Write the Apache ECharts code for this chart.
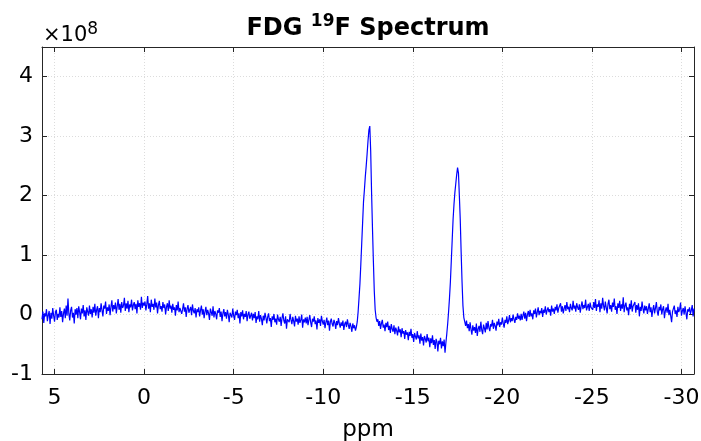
<!DOCTYPE html>
<html>
<head>
<meta charset="utf-8">
<script src="https://cdn.jsdelivr.net/npm/echarts@6/dist/echarts.min.js"></script>
<style>
html,body{margin:0;padding:0;background:#fff;}
#chart{width:701px;height:441px;}
</style>
</head>
<body>
<div id="chart"></div>
<script>
// Chemical shift sampling (ppm): first sample and spacing
const ppmStart = 5.7;
const ppmStep = -0.05;
// Signal intensity in units of 1e8, one value per ppm sample (5.70 ... -30.70)
const intensity = [
  // 5.70 .. 3.00
  -0.08, 0.05, -0.14, 0.02, -0.03, 0.09, -0.11, -0.01, 0.06, -0.16,
  0.03, -0.07, 0.11, -0.02, -0.12, 0.04, 0.08, -0.09, 0.01, -0.05,
  0.12, -0.04, 0.06, -0.13, 0.02, 0.10, -0.06, 0.15, -0.02, 0.27,
  0.01, -0.10, 0.07, 0.13, -0.05, 0.03, -0.15, 0.09, 0.00, 0.11,
  -0.06, 0.14, 0.04, -0.08, 0.10, 0.02, 0.16, -0.03, 0.07, -0.09,
  0.12, 0.05, -0.02, 0.15, 0.01,
  // 2.95 .. 0.00
  0.09, -0.05, 0.13, 0.03, 0.18, -0.02, 0.08, 0.14, -0.06, 0.11,
  0.04, 0.19, 0.07, -0.03, 0.15, 0.10, 0.22, 0.01, 0.12, 0.06,
  0.17, -0.01, 0.13, 0.24, 0.05, 0.16, 0.09, 0.20, 0.02, 0.14,
  0.26, 0.08, 0.18, 0.03, 0.21, 0.11, 0.15, 0.28, 0.06, 0.19,
  0.10, 0.23, 0.04, 0.17, 0.12, 0.25, 0.07, 0.16, 0.21, 0.09,
  0.18, 0.02, 0.24, 0.13, 0.19, 0.08, 0.30, 0.11, 0.20, 0.15,
  // -0.05 .. -3.00
  0.22, 0.07, 0.17, 0.31, 0.10, 0.19, 0.04, 0.25, 0.13, 0.18,
  0.08, 0.27, 0.12, 0.20, 0.02, 0.16, 0.23, 0.09, 0.14, 0.05,
  0.21, 0.11, 0.17, 0.00, 0.13, 0.19, 0.06, 0.24, 0.10, 0.15,
  0.03, 0.18, 0.08, 0.12, -0.02, 0.16, 0.07, 0.22, 0.04, 0.11,
  0.14, 0.01, 0.09, 0.19, 0.05, 0.12, -0.04, 0.10, 0.16, 0.03,
  0.08, 0.13, -0.01, 0.17, 0.06, 0.02, 0.11, -0.05, 0.09, 0.04,
  // -3.05 .. -6.00
  0.12, -0.03, 0.07, 0.15, 0.00, 0.09, -0.06, 0.05, 0.13, -0.01,
  0.08, 0.02, -0.09, 0.10, 0.04, -0.02, 0.14, -0.05, 0.06, 0.01,
  -0.08, 0.07, 0.03, 0.11, -0.04, 0.05, -0.11, 0.02, 0.09, -0.03,
  0.04, -0.07, 0.08, 0.00, -0.13, 0.03, 0.06, -0.05, 0.10, -0.02,
  -0.09, 0.05, -0.01, 0.08, -0.06, 0.02, -0.15, 0.04, -0.03, 0.07,
  -0.08, 0.01, -0.04, 0.06, -0.11, 0.00, 0.05, -0.07, -0.02, 0.03,
  // -6.05 .. -9.00
  -0.10, 0.01, -0.06, 0.04, -0.14, -0.03, -0.08, 0.06, -0.12, -0.01,
  -0.07, -0.18, -0.02, -0.10, 0.03, -0.05, -0.15, -0.04, 0.02, -0.11,
  -0.06, -0.21, -0.03, -0.09, 0.01, -0.13, -0.07, -0.17, 0.00, -0.08,
  -0.12, -0.04, -0.19, -0.06, 0.02, -0.10, -0.15, -0.03, -0.24, -0.08,
  -0.05, -0.13, 0.01, -0.09, -0.16, -0.04, -0.11, -0.20, -0.02, -0.12,
  -0.07, -0.17, -0.03, -0.14, -0.09, 0.00, -0.22, -0.08, -0.13, -0.05,
  // -9.05 .. -11.85
  -0.15, -0.04, -0.18, -0.09, -0.01, -0.13, -0.21, -0.07, -0.12, -0.03,
  -0.16, -0.10, -0.25, -0.06, -0.14, -0.08, -0.19, -0.02, -0.11, -0.17,
  -0.09, -0.23, -0.13, -0.05, -0.18, -0.10, -0.27, -0.12, -0.07, -0.16,
  -0.20, -0.09, -0.14, -0.24, -0.11, -0.18, -0.06, -0.15, -0.22, -0.13,
  -0.19, -0.10, -0.26, -0.16, -0.12, -0.21, -0.08, -0.17, -0.24, -0.14,
  -0.20, -0.29, -0.15, -0.23, -0.18, -0.27, -0.21,
  // -11.90 .. -13.00 (first peak)
  -0.12, 0.05, 0.28, 0.52, 0.85, 1.20, 1.55, 1.90, 2.10, 2.32,
  2.50, 2.70, 2.92, 3.10, 3.17, 2.75, 2.05, 1.45, 0.90, 0.40,
  0.08, -0.05, -0.12,
  // -13.05 .. -16.85
  -0.08, -0.19, -0.11, -0.24, -0.15, -0.09, -0.22, -0.17, -0.28, -0.14,
  -0.21, -0.12, -0.26, -0.19, -0.31, -0.16, -0.24, -0.29, -0.18, -0.33,
  -0.22, -0.27, -0.35, -0.20, -0.30, -0.25, -0.38, -0.23, -0.32, -0.28,
  -0.41, -0.26, -0.34, -0.30, -0.43, -0.29, -0.36, -0.24, -0.39, -0.33,
  -0.46, -0.31, -0.37, -0.42, -0.28, -0.40, -0.35, -0.49, -0.32, -0.44,
  -0.38, -0.52, -0.36, -0.41, -0.47, -0.33, -0.45, -0.39, -0.55, -0.40,
  -0.48, -0.35, -0.51, -0.43, -0.58, -0.41, -0.46, -0.62, -0.44, -0.50,
  -0.39, -0.57, -0.45, -0.53, -0.42, -0.64, -0.47,
  // -16.90 .. -17.90 (second peak)
  -0.32, -0.15, 0.05, 0.28, 0.55, 0.90, 1.25, 1.60, 1.85, 2.05,
  2.20, 2.35, 2.47, 2.38, 2.00, 1.60, 1.05, 0.55, 0.15, -0.05,
  -0.12,
  // -17.95 .. -21.00
  -0.19, -0.10, -0.23, -0.16, -0.28, -0.13, -0.25, -0.34, -0.18, -0.27,
  -0.21, -0.31, -0.15, -0.36, -0.24, -0.19, -0.29, -0.12, -0.26, -0.33,
  -0.17, -0.23, -0.30, -0.14, -0.25, -0.11, -0.22, -0.28, -0.16, -0.20,
  -0.09, -0.24, -0.14, -0.19, -0.27, -0.12, -0.18, -0.07, -0.21, -0.13,
  -0.17, -0.05, -0.15, -0.22, -0.09, -0.14, -0.03, -0.16, -0.10, -0.01,
  -0.13, -0.06, -0.11, 0.00, -0.08, -0.14, -0.04, -0.09, 0.02, -0.07,
  -0.02, -0.10,
  // -21.05 .. -25.00
  0.01, -0.09, -0.02, 0.05, -0.07, 0.03, -0.11, 0.00, 0.06, -0.04,
  0.08, -0.03, 0.02, -0.08, 0.07, 0.01, 0.10, -0.05, 0.04, 0.12,
  -0.01, 0.06, 0.02, 0.11, -0.04, 0.08, 0.03, 0.14, 0.00, 0.07,
  0.12, 0.04, 0.09, -0.02, 0.15, 0.05, 0.10, 0.01, 0.13, 0.07,
  0.17, 0.03, 0.11, 0.08, 0.19, 0.05, 0.14, 0.02, 0.10, 0.16,
  0.06, 0.21, 0.09, 0.13, 0.04, 0.18, 0.11, 0.07, 0.23, 0.10,
  0.15, 0.05, 0.19, 0.12, 0.08, 0.17, 0.03, 0.14, 0.22, 0.09,
  0.16, 0.11, 0.25, 0.07, 0.13, 0.18, 0.06, 0.20, 0.12, 0.15,
  // -25.05 .. -28.00
  0.08, 0.21, 0.11, 0.26, 0.06, 0.17, 0.13, 0.24, 0.04, 0.19,
  0.10, 0.28, 0.15, 0.07, 0.22, 0.12, 0.02, 0.18, 0.25, 0.09,
  0.16, 0.05, 0.20, 0.13, 0.27, 0.08, 0.14, 0.01, 0.19, 0.11,
  0.23, 0.06, 0.17, 0.10, 0.29, 0.04, 0.15, 0.20, 0.07, 0.12,
  -0.01, 0.18, 0.09, 0.24, 0.05, 0.14, 0.11, 0.21, 0.03, 0.16,
  0.08, 0.19, -0.03, 0.13, 0.06, 0.22, 0.10, 0.02, 0.15, 0.07,
  // -28.05 .. -30.70
  0.14, 0.01, 0.10, 0.19, 0.04, 0.12, -0.04, 0.08, 0.16, 0.02,
  0.11, 0.21, 0.05, -0.02, 0.13, 0.07, 0.17, 0.00, 0.09, 0.14,
  -0.06, 0.06, 0.12, 0.03, 0.18, -0.01, 0.08, 0.11, -0.13, 0.05,
  0.10, 0.15, 0.01, 0.07, -0.04, 0.13, 0.04, 0.09, 0.20, -0.02,
  0.06, 0.11, 0.00, 0.14, 0.03, -0.08, 0.09, 0.05, 0.12, 0.01,
  0.07, 0.16, -0.03, 0.10
];
const xRange = [-30.7, 5.7];
const yRange = [-1, 4.5];
const titleParts = ['FDG ', '19', 'F Spectrum'];
const xName = 'ppm';
const yExponent = '8';

const data = intensity.map((v, i) => [Math.round(ppmStart * 100 + i * ppmStep * 100) / 100, v]);

const FONT = 'DejaVu Sans';
const AX = '#262626';
const GRID = '#dcdcdc';

const chart = echarts.init(document.getElementById('chart'), null, {renderer: 'canvas'});

const xBase = {
  type: 'value', inverse: true, min: xRange[0], max: xRange[1],
  splitNumber: 7, minInterval: 5, maxInterval: 5
};
const yBase = {
  type: 'value', min: yRange[0], max: yRange[1], interval: 1
};
const lineAx = {show: true, onZero: false, lineStyle: {color: AX, width: 1}};
const tickAx = {show: true, inside: true, length: 5, lineStyle: {color: AX, width: 1}};

chart.setOption({
  animation: false,
  backgroundColor: '#fff',
  grid: {left: 42, right: 7, top: 47, bottom: 67, containLabel: false, outerBoundsMode: 'none'},
  xAxis: [
    Object.assign({}, xBase, {
      position: 'bottom',
      axisLine: lineAx, axisTick: tickAx,
      axisLabel: {show: true, showMinLabel: false, showMaxLabel: false, fontSize: 22, fontFamily: FONT, color: '#000', margin: 13},
      splitLine: {show: true, lineStyle: {type: [1, 2], color: GRID, width: 1}},
      name: xName, nameLocation: 'middle', nameGap: 45,
      nameTextStyle: {fontSize: 23, fontFamily: FONT, color: '#000'}
    }),
    Object.assign({}, xBase, {
      position: 'top',
      axisLine: lineAx, axisTick: tickAx,
      axisLabel: {show: false},
      splitLine: {show: false}
    })
  ],
  yAxis: [
    Object.assign({}, yBase, {
      position: 'left',
      axisLine: lineAx, axisTick: tickAx,
      axisLabel: {show: true, showMaxLabel: false, fontSize: 22, fontFamily: FONT, color: '#000', margin: 9},
      splitLine: {show: true, lineStyle: {type: [1, 2], color: GRID, width: 1}}
    }),
    Object.assign({}, yBase, {
      position: 'right',
      axisLine: lineAx, axisTick: tickAx,
      axisLabel: {show: false},
      splitLine: {show: false}
    })
  ],
  graphic: [
    {
      type: 'text', x: 368, y: 27, z: 10,
      style: {
        text: '{m|' + titleParts[0] + '}{s|' + titleParts[1] + '}{m|' + titleParts[2] + '}',
        align: 'center', verticalAlign: 'middle',
        rich: {
          m: {fontSize: 24, fontWeight: 'bold', fontFamily: FONT, fill: '#000', lineHeight: 27, verticalAlign: 'bottom'},
          s: {fontSize: 17, fontWeight: 'bold', fontFamily: FONT, fill: '#000', lineHeight: 17, verticalAlign: 'top'}
        }
      }
    },
    {
      type: 'text', x: 43, y: 34, z: 10,
      style: {
        text: '{m|\u00d710}{s|' + yExponent + '}',
        align: 'left', verticalAlign: 'middle',
        rich: {
          m: {fontSize: 21, fontFamily: FONT, fill: '#000', lineHeight: 25, verticalAlign: 'bottom'},
          s: {fontSize: 17, fontFamily: FONT, fill: '#000', lineHeight: 15, verticalAlign: 'top'}
        }
      }
    }
  ],
  series: [{
    type: 'line', xAxisIndex: 0, yAxisIndex: 0,
    data: data, showSymbol: false, symbol: 'none',
    lineStyle: {color: '#0000ff', width: 1.2},
    clip: true
  }]
});
</script>
</body>
</html>
